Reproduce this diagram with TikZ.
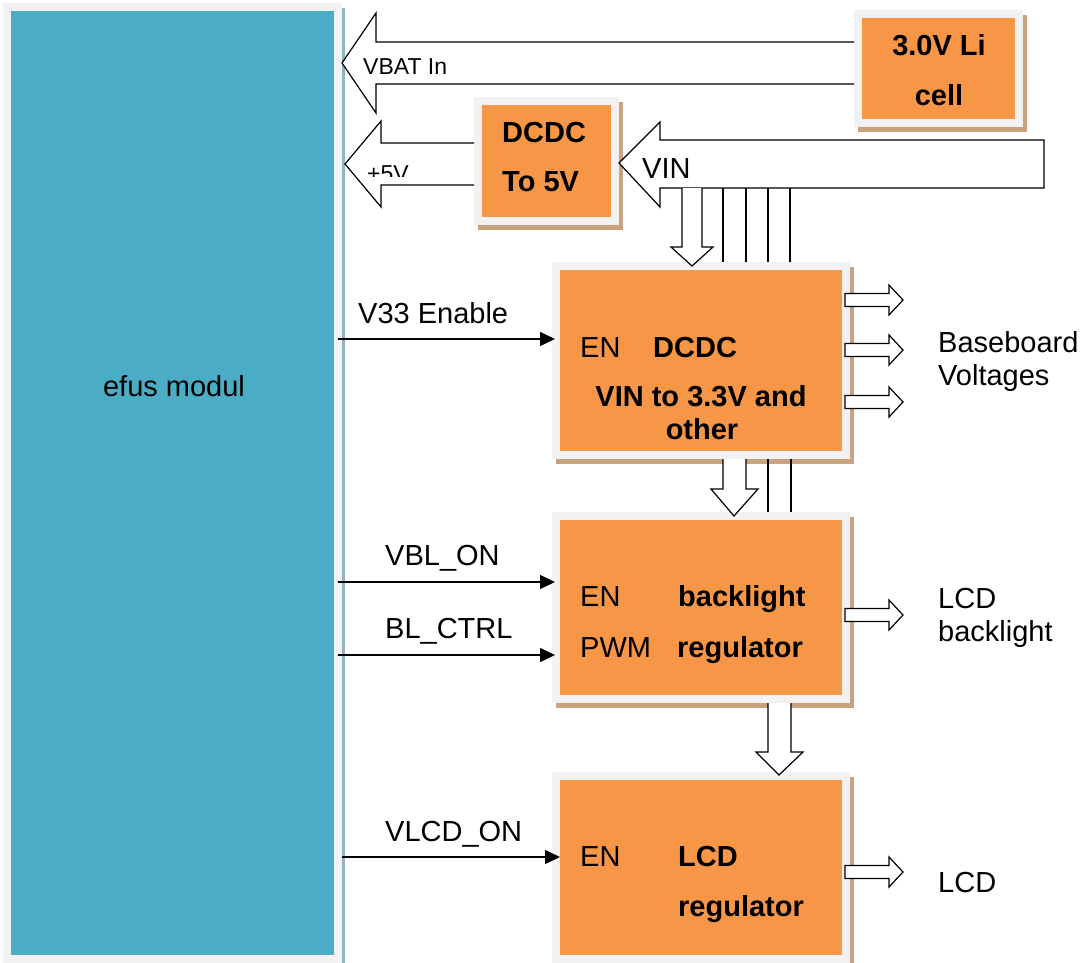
\documentclass[tikz,border=0pt]{standalone}
\usepackage{fontspec}
\setmainfont{Liberation Sans}
\usetikzlibrary{arrows.meta,backgrounds}
\definecolor{boxor}{HTML}{F79646}
\definecolor{framegray}{HTML}{F2F2F2}
\definecolor{shadtan}{HTML}{C9A27F}
\definecolor{teal}{HTML}{4BACC6}
\definecolor{shadblue}{HTML}{93B3C0}
\begin{document}
\begin{tikzpicture}[x=1pt,y=-1pt,
  frame/.style={rectangle, draw=framegray, line width=8pt, fill=boxor, inner sep=0pt, outer sep=4pt},
  big/.style={font=\fontsize{29}{34}\selectfont, inner sep=0pt, anchor=base west},
  bigb/.style={font=\fontsize{29}{34}\selectfont\bfseries, inner sep=0pt, anchor=base west},
  small/.style={font=\fontsize{23}{27}\selectfont, inner sep=0pt, anchor=base west},
  blk/.style={draw=black, fill=white, line width=1.2pt, line join=miter},
  thinl/.style={draw=black, line width=1.2pt},
  sig/.style={draw=black, line width=1.3pt, -{Triangle[length=15pt,width=14pt]}},
  pics/rarrow/.style={code={\draw[blk] (0,-6.5) -- (44,-6.5) -- (44,-15) -- (58,0) -- (44,15) -- (44,6.5) -- (0,6.5) -- cycle;}}]
\useasboundingbox (0,0) rectangle (1082,962);

% boxes
\node[frame, fill=teal, minimum width=331pt, minimum height=952pt] (efus) at (172.5,483) {};
\node[frame, minimum width=161pt, minimum height=109pt] (bat) at (938.5,68.5) {};
\node[frame, minimum width=137pt, minimum height=120pt] (dc5) at (546.5,161) {};
\node[frame, minimum width=290pt, minimum height=189pt] (dcdc) at (701,360.5) {};
\node[frame, minimum width=290pt, minimum height=183pt] (bl) at (701,607.5) {};
\node[frame, minimum width=290pt, minimum height=183pt] (lcd) at (701,867.5) {};

\begin{pgfonlayer}{background}
  \fill[shadblue] ([shift={(3,5)}]efus.north west) rectangle ([shift={(3,5)}]efus.south east);
  \foreach \n in {bat,dc5,dcdc,bl,lcd}
    \fill[shadtan] ([shift={(3.5,5)}]\n.north west) rectangle ([shift={(3.5,5)}]\n.south east);
\end{pgfonlayer}

% texts in boxes
\node[big, anchor=base] (efust) at (174,396) {efus modul};
\node[bigb, anchor=base] (bat1) at (939,55) {3.0V Li};
\node[bigb, anchor=base] (bat2) at (939,105) {cell};
\node[bigb] (dc5a) at (502,142) {DCDC};
\node[bigb] (dc5b) at (502,191) {To 5V};
\node[big] (en1) at (580,357) {EN};
\node[bigb] (dct1) at (653,357) {DCDC};
\node[bigb, anchor=base] (dct2) at (701,406) {VIN to 3.3V and};
\node[bigb, anchor=base] (dct3) at (702,439) {other};
\node[big] (en2) at (580,606) {EN};
\node[bigb] (blt1) at (678,606) {backlight};
\node[big] (pwm) at (580,657) {PWM};
\node[bigb] (blt2) at (677,657) {regulator};
\node[big] (en3) at (580,866) {EN};
\node[bigb] (lct1) at (678,866) {LCD};
\node[bigb] (lct2) at (678,916) {regulator};

% block arrows at top
\draw[blk] (bat.west |- 0,42) -- (376,42) -- (376,13) -- (efus.east |- 0,63) -- (376,113) -- (376,84) -- (bat.west |- 0,84);
\node[small] (vbat) at (363,74) {VBAT In};
\draw[blk] (dc5.west |- 0,143) -- (381,143) -- (381,121) -- (345,164) -- (381,207) -- (381,185) -- (dc5.west |- 0,185);
\begin{scope}
  \clip (355,150) rectangle (430,176.5);
  \node[small] (p5v) at (367,181) {+5V};
\end{scope}
\draw[blk] (1044,140) -- (660,140) -- (660,122) -- (dc5.east |- 0,163) -- (660,207) -- (660,188) -- (1044,188) -- cycle;
\node[big] (vin) at (642,178) {VIN};

% vertical connections
\draw[blk] (682,188) -- (682,247) -- (671,247) -- (692,266) -- (713,247) -- (702,247) -- (702,188);
\foreach \x in {723,746,768,790} \draw[thinl] (\x,188) -- (\x,262);
\draw[blk] (723,459) -- (723,489) -- (711,489) -- (734,516) -- (758,489) -- (746,489) -- (746,459);
\foreach \x in {768,791} \draw[thinl] (\x,459) -- (\x,512);
\draw[blk] (768,703) -- (768,752) -- (756,752) -- (779,775) -- (803,752) -- (791,752) -- (791,703);

% right outputs
\pic at (845,300) {rarrow};
\pic at (845,350) {rarrow};
\pic at (845,402) {rarrow};
\pic at (845,615) {rarrow};
\pic at (845,872) {rarrow};
\node[big] (bb1) at (938,352) {Baseboard};
\node[big] (bb2) at (938,385) {Voltages};
\node[big] (lb1) at (938,608) {LCD};
\node[big] (lb2) at (938,641) {backlight};
\node[big] (lcdt) at (938,892) {LCD};

% signals
\coordinate (s1) at (338,339);
\coordinate (s2) at (338,582);
\coordinate (s3) at (338,655);
\coordinate (s4) at (342,857);
\draw[sig] (s1) -- ([xshift=3pt]s1 -| dcdc.west);
\draw[sig] (s2) -- ([xshift=3pt]s2 -| bl.west);
\draw[sig] (s3) -- ([xshift=3pt]s3 -| bl.west);
\draw[sig] (s4) -- ([xshift=8pt]s4 -| lcd.west);
\node[big] (l1) at (358,323) {V33 Enable};
\node[big] (l2) at (385,565) {VBL\_ON};
\node[big] (l3) at (385,638) {BL\_CTRL};
\node[big] (l4) at (385,841) {VLCD\_ON};
\end{tikzpicture}
\end{document}
